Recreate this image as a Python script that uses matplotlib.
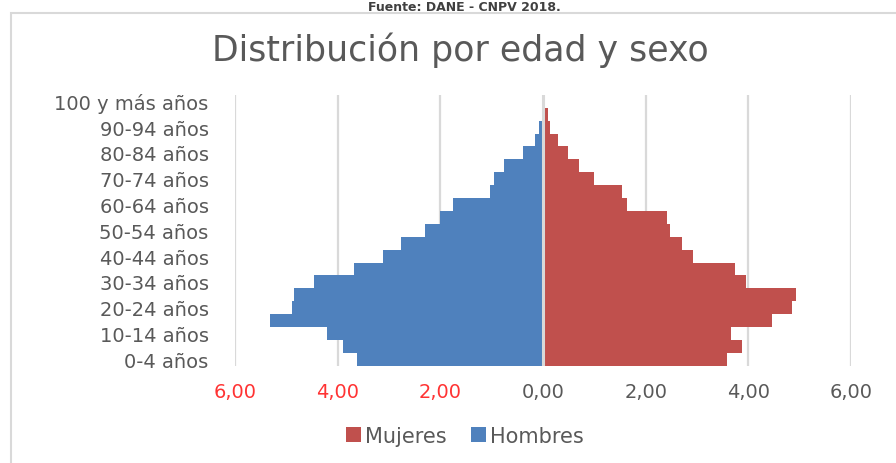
import matplotlib.pyplot as plt
from matplotlib.patches import Rectangle

# Datos (porcentaje de la población por grupo de edad)
grupos = ['0-4 años', '5-9 años', '10-14 años', '15-19 años', '20-24 años',
          '25-29 años', '30-34 años', '35-39 años', '40-44 años', '45-49 años',
          '50-54 años', '55-59 años', '60-64 años', '65-69 años', '70-74 años',
          '75-79 años', '80-84 años', '85-89 años', '90-94 años', '95-99 años',
          '100 y más años']
hombres = [3.62, 3.89, 4.21, 5.31, 4.88, 4.86, 4.47, 3.68, 3.11, 2.77, 2.29,
           2.00, 1.75, 1.04, 0.96, 0.76, 0.38, 0.15, 0.08, 0.02, 0.00]
mujeres = [3.59, 3.87, 3.67, 4.46, 4.85, 4.92, 3.95, 3.74, 2.93, 2.71, 2.47,
           2.41, 1.63, 1.53, 1.00, 0.70, 0.49, 0.29, 0.14, 0.10, 0.01]
ticks_x = [-6, -4, -2, 0, 2, 4, 6]

azul = '#4F81BD'
rojo = '#C0504D'
gris = '#595959'
rejilla = '#D9D9D9'

fig = plt.figure(figsize=(8.96, 4.64), dpi=100)

# marco del gráfico
fig.patches.append(Rectangle((11 / 896, -0.1), 1.2, 1.1 - 14 / 464,
                             transform=fig.transFigure, fill=False,
                             edgecolor=rejilla, linewidth=1.5))

fig.text(0.518, 1 - 1 / 464, 'Fuente: DANE - CNPV 2018.', ha='center',
         va='top', fontsize=9, fontweight='bold', color='#404040')

ax = fig.add_axes([235 / 896, 0.2097, 616 / 896, 0.5838])
pos = list(range(len(grupos)))
ax.barh(pos, mujeres, height=1.0, color=rojo, label='Mujeres', zorder=2)
ax.barh(pos, [-h for h in hombres], height=1.0, color=azul, label='Hombres', zorder=2)

for t in ticks_x:
    ax.axvline(t, color=rejilla, linewidth=1.6 if t != 0 else 2.2,
               zorder=1 if t != 0 else 3)

ax.set_xlim(-6, 6)
ax.set_ylim(-0.5, 20.5)
ax.set_xticks(ticks_x)
ax.set_xticklabels([f'{abs(t):.2f}'.replace('.', ',') for t in ticks_x])
for lab, t in zip(ax.get_xticklabels(), ticks_x):
    lab.set_color('#FF3333' if t < 0 else gris)
ax.set_yticks(pos[::2])
ax.set_yticklabels(grupos[::2], color=gris)
ax.tick_params(axis='x', length=0, pad=12, labelsize=14)
ax.tick_params(axis='y', length=0, pad=19, labelsize=14)
for s in ax.spines.values():
    s.set_visible(False)

fig.text(0.514, 1 - 50 / 464, 'Distribución por edad y sexo', ha='center',
         va='center', fontsize=25, color=gris)

fig.legend(loc='center', bbox_to_anchor=(0.519, 1 - 437 / 464), ncol=2,
           frameon=False, fontsize=15, handlelength=0.7, handleheight=0.7,
           handletextpad=0.2, columnspacing=1.2, labelcolor=gris)

fig.savefig('out.png', dpi=100)
